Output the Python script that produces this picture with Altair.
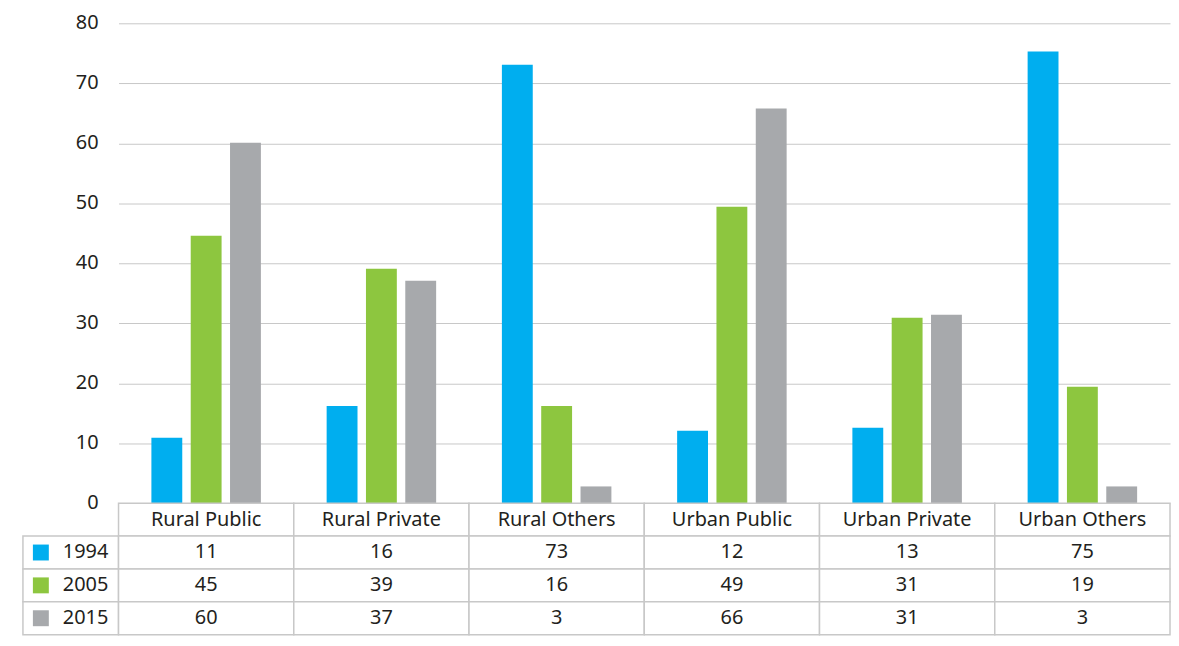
import altair as alt
import pandas as pd

categories = ["Rural Public", "Rural Private", "Rural Others",
              "Urban Public", "Urban Private", "Urban Others"]
years = ["1994", "2005", "2015"]

# bar heights as drawn
bars_1994 = [10.9, 16.2, 73.1, 12.1, 12.6, 75.3]
bars_2005 = [44.6, 39.1, 16.2, 49.4, 30.9, 19.4]
bars_2015 = [60.1, 37.1, 2.8, 65.8, 31.4, 2.8]

# values printed in the table
table_1994 = [11, 16, 73, 12, 13, 75]
table_2005 = [45, 39, 16, 49, 31, 19]
table_2015 = [60, 37, 3, 66, 31, 3]

y_ticks = [0, 10, 20, 30, 40, 50, 60, 70, 80]
colors = ["#00AEEF", "#8DC63F", "#A7A9AC"]

TEXT = "#231f20"
LINE = "#c8c8c8"
FONT = "Noto Sans"
FS = 20
CW = 176          # column width
H = 482           # bar plot height
ROW = 33          # table row height
LEFT = 96         # left label column width

bar_df = pd.DataFrame([
    {"cat": c, "year": y, "value": v}
    for y, vals in zip(years, [bars_1994, bars_2005, bars_2015])
    for c, v in zip(categories, vals)
])

row_domain = ["h"] + years

table_df = pd.DataFrame(
    [{"cat": c, "row": "h", "label": c} for c in categories] +
    [{"cat": c, "row": y, "label": str(v)}
     for y, vals in zip(years, [table_1994, table_2005, table_2015])
     for c, v in zip(categories, vals)]
)

year_df = pd.DataFrame({"row": years, "col": ["c"] * 3})

color_scale = alt.Scale(domain=years, range=colors)
x_scale = alt.Scale(paddingInner=0, paddingOuter=0)
row_scale = alt.Scale(domain=row_domain, paddingInner=0, paddingOuter=0)

# y tick labels (left column above the table)
tick_chart = alt.Chart(pd.DataFrame({"v": y_ticks})).mark_text(
    align="right", baseline="middle", fontSize=FS, font=FONT, color=TEXT
).encode(
    x=alt.value(76),
    y=alt.Y("v:Q", scale=alt.Scale(domain=[0, 80], nice=False), axis=None),
    text=alt.Text("v:Q"),
).properties(width=LEFT, height=H)

bars = alt.Chart(bar_df).mark_bar().encode(
    x=alt.X("cat:N", sort=categories, scale=x_scale, axis=None),
    xOffset=alt.XOffset("year:N", sort=years,
                        scale=alt.Scale(paddingInner=0.215, paddingOuter=0.836)),
    y=alt.Y("value:Q", scale=alt.Scale(domain=[0, 80], nice=False),
            axis=alt.Axis(values=y_ticks, labels=False, ticks=False, domain=False,
                          grid=True, gridColor=LINE, gridWidth=1, title=None)),
    color=alt.Color("year:N", scale=color_scale, legend=None),
).properties(width=6 * CW, height=H)

# left column of table: swatches + years
ycells = alt.Chart(year_df).mark_rect(fill="white", stroke=LINE, strokeWidth=1.5).encode(
    x=alt.X("col:N", axis=None, scale=x_scale),
    y=alt.Y("row:N", sort=row_domain, scale=row_scale, axis=None),
)
ysq = alt.Chart(year_df).mark_square(size=256, opacity=1, filled=True).encode(
    x=alt.value(18),
    y=alt.Y("row:N", sort=row_domain, scale=row_scale, axis=None),
    color=alt.Color("row:N", scale=color_scale, legend=None),
)
ytext = alt.Chart(year_df).mark_text(
    align="left", baseline="middle", fontSize=FS, font=FONT, color=TEXT
).encode(
    x=alt.value(40),
    y=alt.Y("row:N", sort=row_domain, scale=row_scale, axis=None),
    text="row:N",
)
year_col = alt.layer(ycells, ysq, ytext).properties(width=LEFT, height=ROW * 4)

# table body
tcells = alt.Chart(table_df).mark_rect(fill="white", stroke=LINE, strokeWidth=1.5).encode(
    x=alt.X("cat:N", sort=categories, scale=x_scale, axis=None),
    y=alt.Y("row:N", sort=row_domain, scale=row_scale, axis=None),
)
ttext = alt.Chart(table_df).mark_text(
    align="center", baseline="middle", fontSize=FS, font=FONT, color=TEXT
).encode(
    x=alt.X("cat:N", sort=categories, scale=x_scale, axis=None),
    y=alt.Y("row:N", sort=row_domain, scale=row_scale, axis=None),
    text="label:N",
)
table = alt.layer(tcells, ttext).properties(width=6 * CW, height=ROW * 4)

chart = alt.concat(
    tick_chart, bars, year_col, table, columns=2, spacing=0, bounds="flush"
).properties(
    padding={"left": 14, "top": 4, "right": 0, "bottom": 2}
).configure(font=FONT).configure_view(stroke=None)

chart.save("out.html", embed_options={"renderer": "svg", "actions": False})
